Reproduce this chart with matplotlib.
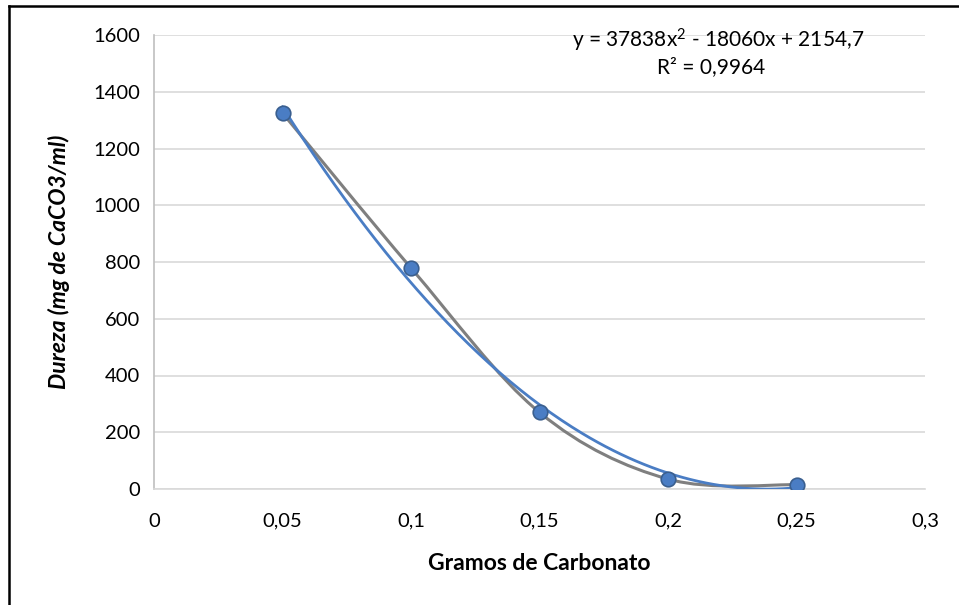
import numpy as np
import matplotlib
matplotlib.use("Agg")
import matplotlib.pyplot as plt
from matplotlib.path import Path
from matplotlib.patches import PathPatch
from matplotlib.lines import Line2D

plt.rcParams['font.family'] = ['Lato', 'DejaVu Sans']
plt.rcParams['mathtext.fontset'] = 'custom'
plt.rcParams['mathtext.rm'] = 'Lato'
plt.rcParams['mathtext.it'] = 'Lato:italic'

# data
gramos = [0.05, 0.10, 0.15, 0.20, 0.25]
dureza = [1325, 779, 270, 35, 15]

# polynomial trendline shown on the chart (a*x^2 + b*x + c)
trend_coef = [37838, -18060, 2154.7]
eq_text = r"y = 37838x$^{2}$ - 18060x + 2154,7"
r2_text = "R² = 0,9964"

x_ticks = [0, 0.05, 0.1, 0.15, 0.2, 0.25, 0.3]
x_ticklabels = ["0", "0,05", "0,1", "0,15", "0,2", "0,25", "0,3"]
y_ticks = [0, 200, 400, 600, 800, 1000, 1200, 1400, 1600]

W, H = 959, 605
fig = plt.figure(figsize=(W / 100, H / 100), dpi=100)
ax = fig.add_axes([154 / W, 1 - 489 / H, (925 - 154) / W, (489 - 35) / H])

# smoothed gray line through the points (Catmull-Rom style bezier, like Excel)
px = [gramos[0]] + gramos + [gramos[-1]]
py = [dureza[0]] + dureza + [dureza[-1]]
verts = [(gramos[0], dureza[0])]
codes = [Path.MOVETO]
for i in range(1, len(px) - 2):
    c1 = (px[i] + (px[i + 1] - px[i - 1]) / 6, py[i] + (py[i + 1] - py[i - 1]) / 6)
    c2 = (px[i + 1] - (px[i + 2] - px[i]) / 6, py[i + 1] - (py[i + 2] - py[i]) / 6)
    verts += [c1, c2, (px[i + 1], py[i + 1])]
    codes += [Path.CURVE4] * 3
ax.add_patch(PathPatch(Path(verts, codes), facecolor='none', edgecolor='#7f7f7f',
                       lw=2.2, zorder=3, capstyle='round'))

# polynomial trendline
xt = np.linspace(gramos[0], gramos[-1], 200)
ax.plot(xt, np.polyval(trend_coef, xt), color='#4a7dc4', lw=2.0, zorder=4)

# markers
ax.plot(gramos, dureza, linestyle='none', marker='o', markersize=10.5,
        markerfacecolor='#4a7dc4', markeredgecolor='#3a5f8f', markeredgewidth=1.2, zorder=5)

ax.set_xlim(0, 0.3)
ax.set_ylim(0, 1600)
ax.set_xticks(x_ticks)
ax.set_xticklabels(x_ticklabels)
ax.set_yticks(y_ticks)
ax.tick_params(axis='both', length=0, labelsize=14.5, labelcolor='black')
ax.tick_params(axis='x', pad=17)
ax.tick_params(axis='y', pad=10)
ax.grid(axis='y', color='#d9d9d9', lw=1.2)
ax.set_axisbelow(True)
for s in ['top', 'right']:
    ax.spines[s].set_visible(False)
ax.spines['left'].set_color('#bfbfbf')
ax.spines['left'].set_linewidth(1.2)
ax.spines['bottom'].set_color('#d9d9d9')
ax.spines['bottom'].set_linewidth(1.2)

ax.set_xlabel('Gramos de Carbonato', fontsize=16.5, fontweight='bold', labelpad=17)
ax.set_ylabel('Dureza (mg de CaCO3/ml)', fontsize=16.5, fontweight='bold',
              fontstyle='italic', labelpad=17)

fig.text(718 / W, 1 - 40 / H, eq_text, ha='center', va='center', fontsize=15)
fig.text(711 / W, 1 - 67 / H, r2_text, ha='center', va='center', fontsize=15)

# outer chart border (left and top visible)
fig.add_artist(Line2D([8.5 / W, 8.5 / W], [0, 1 - 6 / H], color='black', lw=1.8))
fig.add_artist(Line2D([8.5 / W, 1], [1 - 6 / H, 1 - 6 / H], color='black', lw=1.8))

fig.savefig('out.png', dpi=100)
